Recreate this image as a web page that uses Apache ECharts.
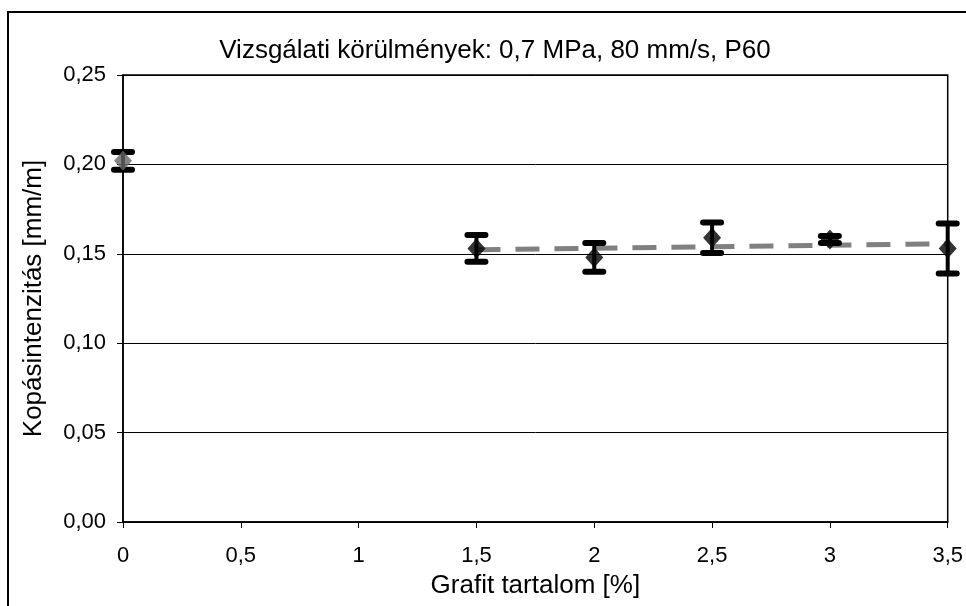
<!DOCTYPE html>
<html>
<head>
<meta charset="utf-8">
<script src="https://cdn.jsdelivr.net/npm/echarts@6/dist/echarts.min.js"></script>
<style>
  html, body { margin: 0; padding: 0; background: #fff; }
  #main { width: 966px; height: 606px; }
</style>
</head>
<body>
<div id="main"></div>
<script>
// grafit tartalom [%]
var grafit = [0, 1.5, 2, 2.5, 3, 3.5];
// kopásintenzitás [mm/m]
var kopas = [0.202, 0.153, 0.148, 0.159, 0.158, 0.153];
// hibasáv (+/-)
var hiba = [0.005, 0.0075, 0.008, 0.0085, 0.002, 0.014];
// trendvonal végpontjai
var trendX = [1.5, 3.5];
var trendY = [0.1523, 0.1556];

var font = 'Liberation Sans, Arial, sans-serif';

function vesszo(v, d) {
  return v.toFixed(d).replace('.', ',');
}

var errData = grafit.map(function (x, i) {
  return [x, kopas[i] - hiba[i], kopas[i] + hiba[i]];
});
var pontok = grafit.map(function (x, i) {
  return {
    value: [x, kopas[i]],
    itemStyle: { color: i === 0 ? '#666666' : '#000000' }
  };
});
var trend = trendX.map(function (x, i) { return [x, trendY[i]]; });

var myChart = echarts.init(document.getElementById('main'));
myChart.setOption({
  animation: false,
  backgroundColor: '#ffffff',
  title: {
    text: 'Vizsgálati körülmények: 0,7 MPa, 80 mm/s, P60',
    left: 490,
    top: 33,
    textAlign: 'center',
    textStyle: { fontFamily: font, fontSize: 26, fontWeight: 'normal', color: '#000' }
  },
  graphic: [{
    type: 'rect',
    shape: { x: 8, y: 12, width: 1000, height: 1000 },
    style: { fill: 'none', stroke: '#000', lineWidth: 2 },
    silent: true
  }],
  grid: {
    left: 123, top: 75, right: 16, bottom: 84,
    show: true,
    borderColor: '#000',
    borderWidth: 1.5,
    backgroundColor: 'transparent'
  },
  xAxis: {
    type: 'value',
    min: 0, max: 3.5, interval: 0.5,
    name: 'Grafit tartalom [%]',
    nameLocation: 'middle',
    nameGap: 51,
    nameTextStyle: { fontFamily: font, fontSize: 26, color: '#000' },
    axisLine: { show: true, lineStyle: { color: '#000', width: 1.5 } },
    axisTick: { show: true, inside: false, length: 6, lineStyle: { color: '#000' } },
    axisLabel: {
      fontFamily: font, fontSize: 22, color: '#000', margin: 23,
      formatter: function (v) { return String(v).replace('.', ','); }
    },
    splitLine: { show: false }
  },
  yAxis: {
    type: 'value',
    min: 0, max: 0.25, interval: 0.05,
    name: 'Kopásintenzitás [mm/m]',
    nameLocation: 'middle',
    nameGap: 76,
    nameTextStyle: { fontFamily: font, fontSize: 26, color: '#000' },
    axisLine: { show: true, lineStyle: { color: '#000', width: 1.5 } },
    axisTick: { show: true, inside: false, length: 6, lineStyle: { color: '#000' } },
    axisLabel: {
      fontFamily: font, fontSize: 22, color: '#000', margin: 17,
      formatter: function (v) { return vesszo(v, 2); }
    },
    splitLine: { show: true, lineStyle: { color: '#000', width: 1 } }
  },
  series: [
    {
      type: 'line',
      data: trend,
      symbol: 'none',
      lineStyle: { color: '#808080', width: 5, type: [24, 15] },
      z: 2
    },
    {
      type: 'custom',
      data: errData,
      z: 3,
      renderItem: function (params, api) {
        var x = api.value(0);
        var lo = api.coord([x, api.value(1)]);
        var hi = api.coord([x, api.value(2)]);
        var half = 9;
        var st = { stroke: '#000', lineWidth: 6, lineCap: 'round' };
        return {
          type: 'group',
          children: [
            { type: 'line', shape: { x1: lo[0], y1: lo[1], x2: hi[0], y2: hi[1] }, style: { stroke: '#000', lineWidth: 4 } },
            { type: 'line', shape: { x1: lo[0] - half, y1: lo[1], x2: lo[0] + half, y2: lo[1] }, style: st },
            { type: 'line', shape: { x1: hi[0] - half, y1: hi[1], x2: hi[0] + half, y2: hi[1] }, style: st }
          ]
        };
      }
    },
    {
      type: 'scatter',
      data: pontok,
      symbol: 'diamond',
      symbolSize: [18, 20],
      z: 4
    }
  ]
});
</script>
</body>
</html>
